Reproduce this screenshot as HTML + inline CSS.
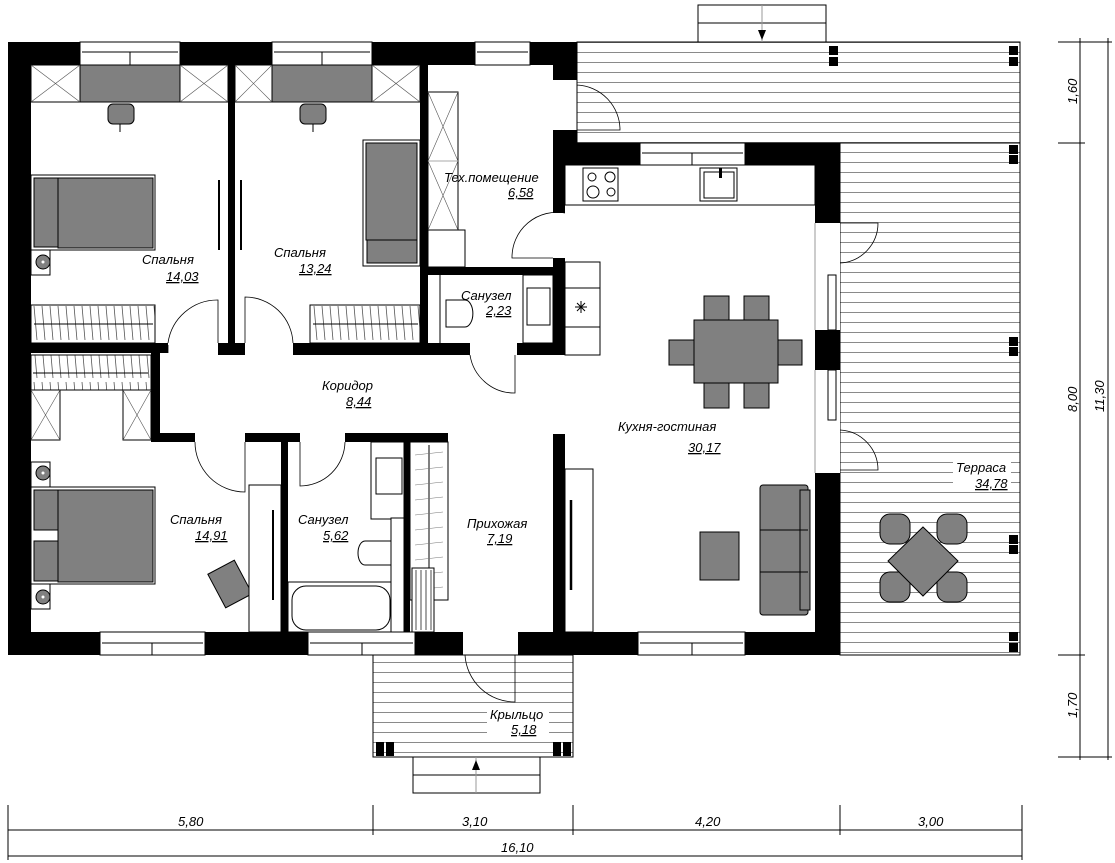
<!DOCTYPE html>
<html><head><meta charset="utf-8"><style>
html,body{margin:0;padding:0;background:#fff;}
svg{display:block;}
text{font-family:"Liberation Sans",sans-serif;font-style:italic;font-size:13px;fill:#000;}
.t{stroke:#000;stroke-width:1;fill:none;}
.g{fill:#808080;stroke:#000;stroke-width:1;}
.w{fill:#fff;stroke:#000;stroke-width:1;}
.b{fill:#000;}
.ar{stroke:#000;stroke-width:0.8;fill:none;}
</style></head><body>
<svg width="1115" height="863" viewBox="0 0 1115 863" xmlns="http://www.w3.org/2000/svg">
<defs>
<pattern id="deck" patternUnits="userSpaceOnUse" width="20" height="10" y="2">
<rect width="20" height="10" fill="#fff"/>
<line x1="0" y1="0.5" x2="20" y2="0.5" stroke="#8a8a8a" stroke-width="1"/>
</pattern>
<pattern id="hatch" patternUnits="userSpaceOnUse" width="8" height="38">
<rect width="8" height="38" fill="#fff"/>
<line x1="2" y1="2" x2="5" y2="36" stroke="#555" stroke-width="0.8"/>
</pattern>
</defs>

<!-- terrace decks -->
<rect x="577" y="42" width="443" height="101" fill="url(#deck)" stroke="#000"/>
<rect x="840" y="143" width="180" height="512" fill="url(#deck)" stroke="#000"/>
<rect x="373" y="655" width="200" height="102" fill="url(#deck)" stroke="#000"/>
<!-- posts -->
<g class="b">
<rect x="829" y="46" width="9" height="9"/><rect x="829" y="57" width="9" height="9"/>
<rect x="1009" y="46" width="9" height="9"/><rect x="1009" y="57" width="9" height="9"/>
<rect x="1009" y="145" width="9" height="9"/><rect x="1009" y="155" width="9" height="9"/>
<rect x="1009" y="337" width="9" height="9"/><rect x="1009" y="347" width="9" height="9"/>
<rect x="1009" y="535" width="9" height="9"/><rect x="1009" y="545" width="9" height="9"/>
<rect x="1009" y="632" width="9" height="9"/><rect x="1009" y="643" width="9" height="9"/>
<rect x="376" y="742" width="8" height="14"/><rect x="386" y="742" width="8" height="14"/>
<rect x="553" y="742" width="8" height="14"/><rect x="563" y="742" width="8" height="14"/>
</g>
<!-- steps -->
<rect x="698" y="5" width="128" height="37" class="w"/><line x1="698" y1="23" x2="826" y2="23" class="t"/>
<line x1="762" y1="5" x2="762" y2="42" stroke="#999"/><polygon points="758,30 766,30 762,40" class="b"/>
<rect x="413" y="757" width="127" height="36" class="w"/><line x1="413" y1="775" x2="540" y2="775" class="t"/>
<line x1="476" y1="757" x2="476" y2="793" stroke="#999"/><polygon points="472,770 480,770 476,760" class="b"/>

<!-- outer walls -->
<g class="b">
<rect x="8" y="42" width="569" height="23"/>
<rect x="8" y="42" width="23" height="613"/>
<rect x="8" y="632" width="455" height="23"/>
<rect x="518" y="632" width="322" height="23"/>
<rect x="553" y="65" width="24" height="15"/>
<rect x="553" y="130" width="24" height="13"/>
<rect x="553" y="143" width="287" height="22"/>
<rect x="815" y="143" width="25" height="80"/>
<rect x="815" y="330" width="25" height="40"/>
<rect x="815" y="473" width="25" height="182"/>
<!-- interior -->
<rect x="228" y="65" width="7" height="290"/>
<rect x="420" y="65" width="8" height="290"/>
<rect x="553" y="143" width="12" height="70"/>
<rect x="553" y="258" width="12" height="97"/>
<rect x="420" y="267" width="133" height="8"/>
<rect x="31" y="343" width="137" height="10"/>
<rect x="218" y="343" width="27" height="12"/>
<rect x="293" y="343" width="177" height="12"/>
<rect x="517" y="343" width="48" height="12"/>
<rect x="151" y="343" width="9" height="98"/>
<rect x="151" y="433" width="44" height="9"/>
<rect x="245" y="433" width="55" height="9"/>
<rect x="345" y="433" width="103" height="9"/>
<rect x="281" y="440" width="7" height="192"/>
<rect x="404" y="440" width="6" height="192"/>
<rect x="553" y="434" width="12" height="198"/>
</g>
<!-- windows -->
<g>
<rect x="80" y="42" width="100" height="23" class="w"/><line x1="82" y1="52" x2="178" y2="52" class="t"/><line x1="130" y1="52" x2="130" y2="65" class="t"/>
<rect x="272" y="42" width="100" height="23" class="w"/><line x1="274" y1="52" x2="370" y2="52" class="t"/><line x1="322" y1="52" x2="322" y2="65" class="t"/>
<rect x="475" y="42" width="55" height="23" class="w"/><line x1="477" y1="52" x2="528" y2="52" class="t"/>
<rect x="640" y="143" width="105" height="22" class="w"/><line x1="642" y1="153" x2="743" y2="153" class="t"/><line x1="692" y1="153" x2="692" y2="165" class="t"/>
<rect x="100" y="632" width="105" height="23" class="w"/><line x1="102" y1="643" x2="203" y2="643" class="t"/><line x1="152" y1="643" x2="152" y2="655" class="t"/>
<rect x="308" y="632" width="107" height="23" class="w"/><line x1="310" y1="643" x2="413" y2="643" class="t"/><line x1="362" y1="643" x2="362" y2="655" class="t"/>
<rect x="638" y="632" width="107" height="23" class="w"/><line x1="640" y1="643" x2="743" y2="643" class="t"/><line x1="692" y1="643" x2="692" y2="655" class="t"/>
<rect x="815" y="223" width="25" height="107" fill="#fff"/><line x1="815" y1="223" x2="815" y2="330" stroke="#999"/><rect x="828" y="275" width="8" height="55" class="w"/>
<rect x="815" y="370" width="25" height="103" fill="#fff"/><line x1="815" y1="370" x2="815" y2="473" stroke="#999"/><rect x="828" y="370" width="8" height="50" class="w"/>
</g>
<!-- doors -->
<g class="ar">
<path d="M577 80 L577 130 M577 130 L620 130 A45 45 0 0 0 577 85"/>
<path d="M840 223 L878 223 A40 40 0 0 1 840 263"/>
<path d="M840 470 L878 470 A40 40 0 0 0 840 430"/>
<path d="M565 213 A45 45 0 0 0 512 258 L553 258"/>
<path d="M168 353 L168 345 M168 343 A50 50 0 0 1 218 300 L218 343"/>
<path d="M293 343 A48 48 0 0 0 245 297 L245 343"/>
<path d="M470 355 A45 45 0 0 0 515 393 L515 355"/>
<path d="M195 442 A50 50 0 0 0 245 492 L245 442"/>
<path d="M300 442 L300 486 A45 45 0 0 0 345 442"/>
<path d="M465 655 A50 50 0 0 0 515 702 L515 655"/>
</g>

<!-- Bedroom 1 furniture -->
<rect x="80" y="65" width="100" height="37" class="g"/>
<rect x="31" y="65" width="49" height="37" class="w"/><path d="M31 65 L80 102 M80 65 L31 102" stroke="#555" stroke-width="0.6"/>
<rect x="180" y="65" width="48" height="37" class="w"/><path d="M180 65 L228 102 M228 65 L180 102" stroke="#555" stroke-width="0.6"/>
<rect x="108" y="104" width="26" height="20" rx="5" class="g"/><line x1="120" y1="124" x2="120" y2="132" class="t"/>
<rect x="31" y="175" width="124" height="75" class="w"/><rect x="34" y="178" width="24" height="69" class="g"/><rect x="58" y="178" width="95" height="70" class="g"/>
<rect x="31" y="250" width="19" height="25" class="w"/><circle cx="43" cy="262" r="7" class="g"/><circle cx="43" cy="262" r="1.5" fill="#fff"/>
<rect x="31" y="305" width="124" height="38" fill="url(#hatch)" stroke="#000"/><line x1="34" y1="324" x2="153" y2="324" class="t"/>
<!-- bedroom 2 -->
<rect x="272" y="65" width="100" height="37" class="g"/>
<rect x="235" y="65" width="37" height="37" class="w"/><path d="M235 65 L272 102 M272 65 L235 102" stroke="#555" stroke-width="0.6"/>
<rect x="372" y="65" width="48" height="37" class="w"/><path d="M372 65 L420 102 M420 65 L372 102" stroke="#555" stroke-width="0.6"/>
<rect x="300" y="104" width="26" height="20" rx="5" class="g"/><line x1="313" y1="124" x2="313" y2="132" class="t"/>
<rect x="363" y="140" width="57" height="126" class="w"/><rect x="366" y="143" width="51" height="97" class="g"/><rect x="367" y="240" width="50" height="23" class="g"/>
<rect x="310" y="305" width="110" height="38" fill="url(#hatch)" stroke="#000"/><line x1="313" y1="324" x2="418" y2="324" class="t"/>
<path d="M219 180 L219 250 M241 180 L241 250" stroke="#000" stroke-width="2"/>
<!-- tech room -->
<rect x="428" y="92" width="30" height="138" class="w"/><path d="M428 92 L458 161 L428 230 M458 92 L428 161 L458 230 M428 161 L458 161" stroke="#555" stroke-width="0.6" fill="none"/>
<rect x="428" y="230" width="37" height="37" class="w"/>
<!-- bath 2.23 -->
<line x1="440" y1="275" x2="440" y2="343" class="t"/>
<path d="M446 300 L465 300 A7 12 0 0 1 465 327 L446 327 Z" class="w"/>
<rect x="523" y="275" width="30" height="68" class="w"/><rect x="527" y="288" width="23" height="37" class="w"/>
<rect x="565" y="262" width="35" height="93" class="w"/><line x1="565" y1="288" x2="600" y2="288" class="t"/><line x1="565" y1="327" x2="600" y2="327" class="t"/>
<path d="M575 307 L587 307 M581 301 L581 313 M577 303 L585 311 M585 303 L577 311" class="t"/>
<!-- kitchen -->
<rect x="565" y="165" width="250" height="40" class="w"/>
<rect x="583" y="168" width="35" height="33" class="w"/>
<circle cx="592" cy="177" r="4" class="t"/><circle cx="610" cy="177" r="5" class="t"/><circle cx="593" cy="192" r="6" class="t"/><circle cx="611" cy="192" r="4" class="t"/>
<rect x="700" y="168" width="37" height="33" class="w"/><rect x="704" y="172" width="30" height="26" class="w"/><rect x="719" y="168" width="3" height="10" class="b"/>
<!-- dining -->
<rect x="704" y="296" width="25" height="25" class="g"/><rect x="744" y="296" width="25" height="25" class="g"/>
<rect x="704" y="383" width="25" height="25" class="g"/><rect x="744" y="383" width="25" height="25" class="g"/>
<rect x="669" y="340" width="25" height="25" class="g"/><rect x="777" y="340" width="25" height="25" class="g"/>
<rect x="694" y="320" width="84" height="63" class="g"/>
<!-- living -->
<rect x="565" y="469" width="28" height="163" class="w"/><path d="M571 500 L571 590" stroke="#000" stroke-width="2.5"/>
<rect x="700" y="532" width="39" height="48" class="g"/>
<rect x="760" y="485" width="48" height="130" rx="3" class="g"/><rect x="800" y="490" width="10" height="120" class="g"/>
<line x1="760" y1="530" x2="808" y2="530" class="t"/><line x1="760" y1="572" x2="808" y2="572" class="t"/>
<!-- terrace table -->
<g class="g" stroke-width="2">
<rect x="880" y="514" width="30" height="30" rx="10"/><rect x="937" y="514" width="30" height="30" rx="10"/>
<rect x="880" y="572" width="30" height="30" rx="10"/><rect x="937" y="572" width="30" height="30" rx="10"/>
</g>
<polygon points="923,527 958,561 923,596 888,561" class="g"/>

<!-- bedroom 3 -->
<rect x="31" y="355" width="120" height="35" fill="url(#hatch)" stroke="#000"/><line x1="33" y1="373" x2="148" y2="373" class="t"/>
<rect x="31" y="390" width="29" height="50" class="w"/><path d="M31 390 L60 440 M60 390 L31 440" stroke="#555" stroke-width="0.6"/>
<rect x="123" y="390" width="28" height="50" class="w"/><path d="M123 390 L151 440 M151 390 L123 440" stroke="#555" stroke-width="0.6"/>
<rect x="31" y="462" width="19" height="25" class="w"/><circle cx="43" cy="473" r="7" class="g"/><circle cx="43" cy="473" r="1.5" fill="#fff"/>
<rect x="31" y="487" width="124" height="97" class="w"/><rect x="34" y="490" width="24" height="40" class="g"/><rect x="34" y="541" width="24" height="40" class="g"/><rect x="58" y="490" width="95" height="92" class="g"/>
<rect x="31" y="584" width="19" height="25" class="w"/><circle cx="43" cy="597" r="7" class="g"/><circle cx="43" cy="597" r="1.5" fill="#fff"/>
<rect x="215" y="565" width="30" height="38" class="g" transform="rotate(-28 230 584)"/>
<rect x="249" y="485" width="32" height="147" class="w"/><path d="M273 510 L273 600" stroke="#000" stroke-width="2"/>
<!-- bath 5.62 -->
<rect x="371" y="442" width="33" height="77" class="w"/><rect x="376" y="458" width="26" height="36" class="w"/>
<rect x="391" y="518" width="13" height="114" class="w"/>
<path d="M391 541 L365 541 A7 12 0 0 0 365 565 L391 565 Z" class="w"/>
<rect x="288" y="582" width="103" height="50" class="w"/><rect x="292" y="586" width="98" height="44" rx="14" class="w"/>
<rect x="410" y="442" width="38" height="158" class="w"/><line x1="429" y1="445" x2="429" y2="597" class="t"/>
<path d="M415 455 L443 452 M415 470 L443 467 M415 485 L443 482 M415 500 L443 497 M415 515 L443 512 M415 530 L443 527 M415 545 L443 542 M415 560 L443 557 M415 575 L443 572 M415 590 L443 587" stroke="#777" stroke-width="0.6"/>
<rect x="412" y="568" width="22" height="64" class="w"/><path d="M416 570 L416 630 M421 570 L421 630 M426 570 L426 630 M431 570 L431 630" stroke="#000" stroke-width="0.7"/>

<!-- labels -->
<text x="142" y="264">Спальня</text><text x="166" y="281" text-decoration="underline">14,03</text>
<text x="274" y="257">Спальня</text><text x="299" y="273" text-decoration="underline">13,24</text>
<text x="444" y="182">Тех.помещение</text><text x="508" y="197" text-decoration="underline">6,58</text>
<text x="461" y="300">Санузел</text><text x="486" y="315" text-decoration="underline">2,23</text>
<text x="322" y="390">Коридор</text><text x="346" y="406" text-decoration="underline">8,44</text>
<text x="618" y="431">Кухня-гостиная</text><text x="688" y="452" text-decoration="underline">30,17</text>
<text x="170" y="524">Спальня</text><text x="195" y="540" text-decoration="underline">14,91</text>
<text x="298" y="524">Санузел</text><text x="323" y="540" text-decoration="underline">5,62</text>
<text x="467" y="528">Прихожая</text><text x="487" y="543" text-decoration="underline">7,19</text>
<rect x="953" y="461" width="58" height="30" fill="#fff"/>
<text x="956" y="472">Терраса</text><text x="975" y="488" text-decoration="underline">34,78</text>
<rect x="487" y="707" width="62" height="30" fill="#fff"/>
<text x="490" y="719">Крыльцо</text><text x="511" y="734" text-decoration="underline">5,18</text>

<!-- dimensions -->
<g class="t">
<line x1="8" y1="830" x2="1022" y2="830"/><line x1="8" y1="856" x2="1022" y2="856"/>
<line x1="8" y1="805" x2="8" y2="860"/><line x1="373" y1="805" x2="373" y2="835"/>
<line x1="573" y1="805" x2="573" y2="835"/><line x1="840" y1="805" x2="840" y2="835"/>
<line x1="1022" y1="805" x2="1022" y2="860"/>
<line x1="1080" y1="38" x2="1080" y2="760"/><line x1="1108" y1="38" x2="1108" y2="760"/>
<line x1="1058" y1="42" x2="1112" y2="42"/><line x1="1058" y1="143" x2="1085" y2="143"/>
<line x1="1058" y1="655" x2="1085" y2="655"/><line x1="1058" y1="757" x2="1112" y2="757"/>
</g>
<text x="178" y="826">5,80</text><text x="462" y="826">3,10</text><text x="695" y="826">4,20</text>
<text x="918" y="826">3,00</text><text x="501" y="852">16,10</text>
<text transform="translate(1077,104) rotate(-90)">1,60</text>
<text transform="translate(1077,412) rotate(-90)">8,00</text>
<text transform="translate(1104,412) rotate(-90)">11,30</text>
<text transform="translate(1077,718) rotate(-90)">1,70</text>
</svg>
</body></html>
